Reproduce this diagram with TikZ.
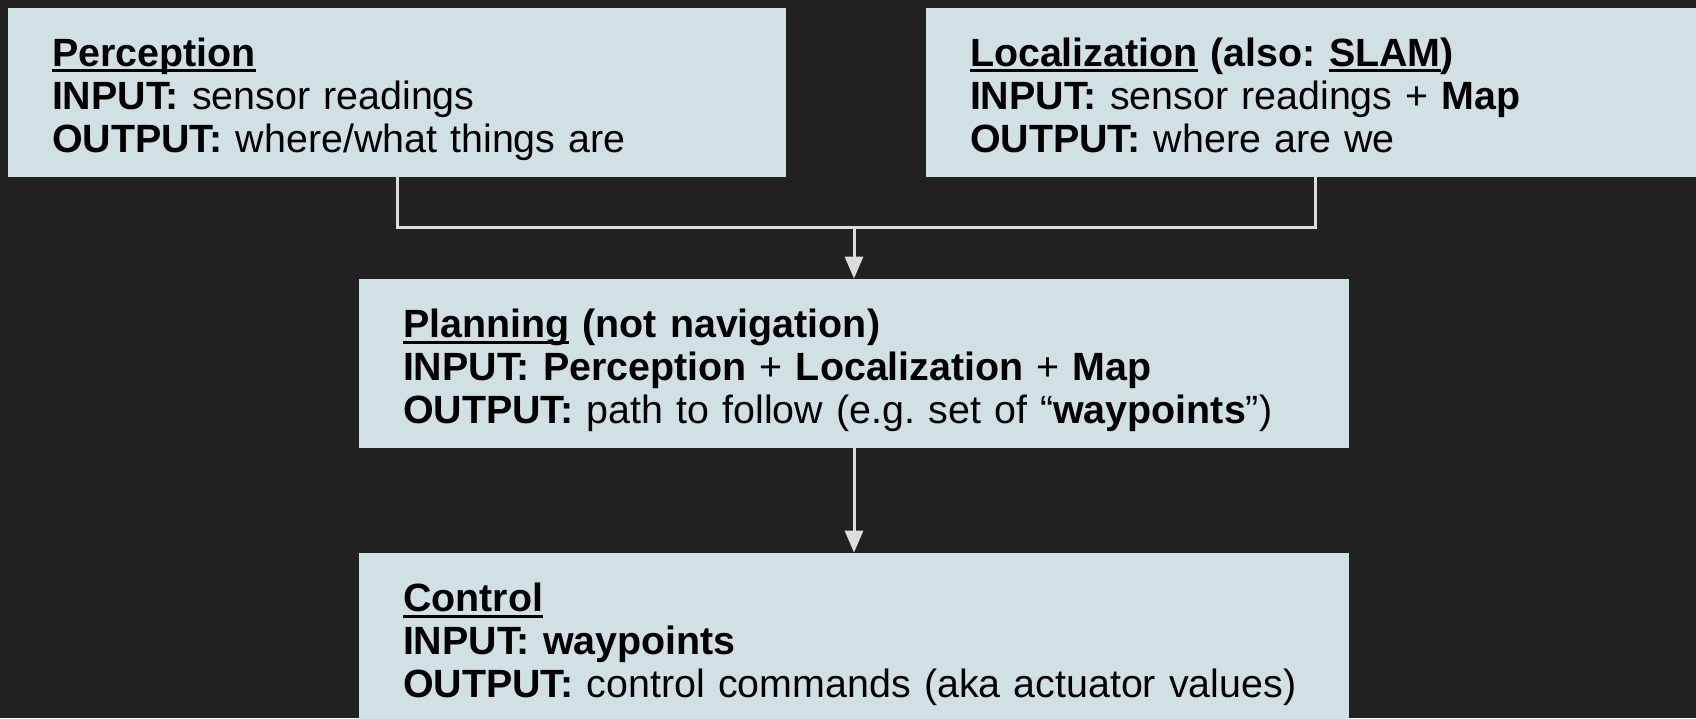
\documentclass[tikz,border=0pt]{standalone}
\usepackage{fontspec}
\setmainfont{Liberation Sans}
\usetikzlibrary{arrows.meta}
\definecolor{slidebg}{HTML}{212121}
\definecolor{boxfill}{HTML}{D0E0E3}
\definecolor{wire}{HTML}{DDDDDD}
\frenchspacing
\newcommand\undr[1]{\setbox0\hbox{#1}\rlap{\rule[-3pt]{\wd0}{1.5pt}}\box0\relax}
\newcommand\topgap{\rule{0pt}{22pt}}
\newcommand\botgap{\rule[-5pt]{0pt}{5pt}}

\begin{document}
\begin{tikzpicture}[x=0.5pt, y=-0.5pt,
        every node/.append style={font=\fontsize{19.7}{21.5}\selectfont}]
      \tikzstyle{stage} = [fill=boxfill, text=black, draw=none, minimum height=84.5pt,
        align=left, inner xsep=22pt, inner ysep=0pt]
      \tikzstyle{link} = [draw=wire, line width=1.5pt]
      \useasboundingbox (0,0) rectangle (1696,718);
      \fill[slidebg] (0,0) rectangle (1696,718);
      \node (perception) [stage, text width=345pt] at (397,92)
        {\topgap\textbf{\undr{Perception}}\\
         \textbf{INPUT:} sensor readings\\
         \textbf{OUTPUT:} where/what things are\botgap};
      \node (localization) [stage, text width=345pt] at (1315,92)
        {\topgap\textbf{\undr{Localization} (also: \undr{SLAM})}\\
         \textbf{INPUT:} sensor readings + \textbf{Map}\\
         \textbf{OUTPUT:} where are we\botgap};
      \node (planning) [stage, text width=451pt] at (854,363.5)
        {\topgap\textbf{\undr{Planning} (not navigation)}\\
         \textbf{INPUT: Perception} + \textbf{Localization} + \textbf{Map}\\
         \textbf{OUTPUT:} path to follow (e.g. set of \textquotedblleft\textbf{waypoints}\textquotedblright)\botgap};
      \node (control) [stage, text width=451pt] at (854,637.5)
        {\topgap\textbf{\undr{Control}}\\
         \textbf{INPUT: waypoints}\\
         \textbf{OUTPUT:} control commands (aka actuator values)\botgap};
      \coordinate (join) at (854,227);
      \draw[link] (perception.south) |- (join) -| (localization.south);
      \draw[link, -{Triangle[length=11pt, width=9pt]}] (join) -- (planning.north);
      \draw[link, -{Triangle[length=11pt, width=9pt]}] (planning.south) -- (control.north);
    \end{tikzpicture}
\end{document}
